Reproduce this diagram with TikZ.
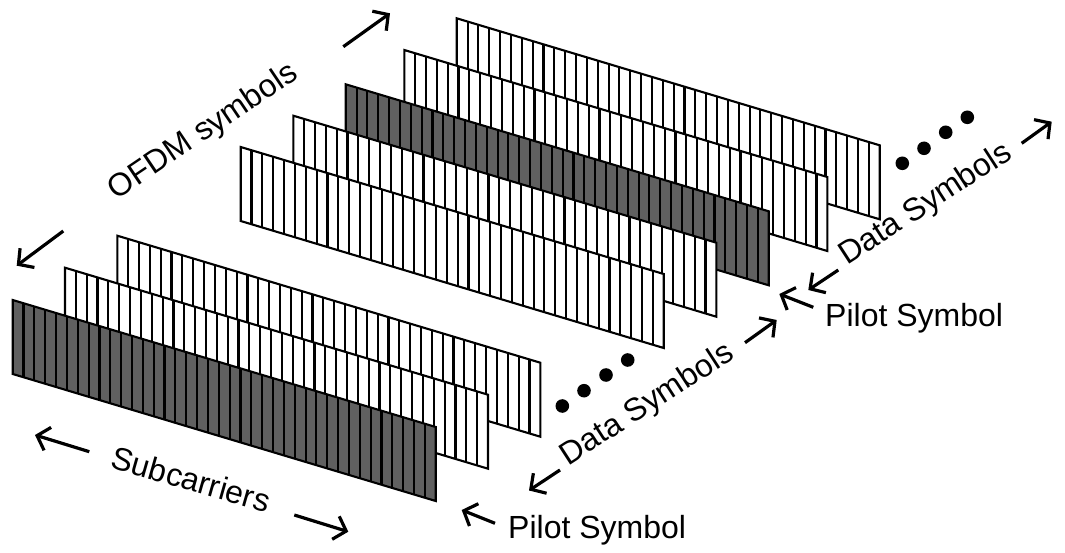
\documentclass[tikz,border=0pt]{standalone}
\usepackage{fontspec}
\setmainfont{Liberation Sans}
\usetikzlibrary{arrows.meta}
\definecolor{pilotgray}{RGB}{96,96,96}
\newcommand\ofdmslab[3]{%
  \filldraw[slabline, fill=#3] (#1,#2) -- ++(423,127) -- ++(0,74) -- ++(-423,-127) -- cycle;
  \foreach \i in {1,...,38}{\draw[slabline] ({#1+\i*423/39},{#2+\i*127/39}) -- ++(0,74);}
}
\tikzset{
  slabline/.style={line width=2.1pt, line join=miter},
  axisarrow/.style={line width=3.2pt, -{Straight Barb[length=11pt,width=24pt,line width=3.2pt]}},
  lbl/.style={font=\fontsize{32}{32}\selectfont, inner sep=0pt, anchor=base},
  dot/.style={fill=black}
}
\begin{document}
\begin{tikzpicture}[x=1pt,y=-1pt]
\useasboundingbox[fill=white] (0,0) rectangle (1065,553);
% back group
\ofdmslab{456.7}{18.3}{white}
\ofdmslab{404.3}{50}{white}
\ofdmslab{345.7}{84.3}{pilotgray}
\ofdmslab{293.3}{115.7}{white}
\ofdmslab{240.7}{147}{white}
% front group
\ofdmslab{117.3}{235.7}{white}
\ofdmslab{65}{267.7}{white}
\ofdmslab{12.7}{300}{pilotgray}
% dots
\foreach \x/\y in {562.3/406, 584/390.7, 606/375, 627.7/360, 902.3/163.3, 924/148.3, 945.7/132.3, 967.3/117.3}
  \fill[dot] (\x,\y) circle (6.8pt);
% labels
\node[lbl, rotate=34] (ofdm) at (208,139) {OFDM symbols};
\node[lbl, rotate=-16] (subc) at (188,490) {Subcarriers};
\node[lbl, anchor=base west] (pilotA) at (508,538.3) {Pilot Symbol};
\node[lbl, anchor=base west] (pilotB) at (825,326.7) {Pilot Symbol};
\node[lbl, rotate=33] (dataA) at (652,412) {Data Symbols};
\node[lbl, rotate=33] (dataB) at (930.7,211.7) {Data Symbols};
% arrow end points
\coordinate (o1t) at (63.3,231);   \coordinate (o1h) at (16.7,265.7);
\coordinate (o2t) at (343.3,46.7); \coordinate (o2h) at (390,13.3);
\coordinate (s1t) at (89.3,451.7); \coordinate (s1h) at (35,435);
\coordinate (s2t) at (294.3,515);  \coordinate (s2h) at (348.3,531.7);
\coordinate (p1t) at (495,523.3);  \coordinate (p1h) at (461.7,510);
\coordinate (p2t) at (813.3,307.3); \coordinate (p2h) at (779.3,294);
\coordinate (d1t) at (560,470);    \coordinate (d1h) at (529,490.5);
\coordinate (d2t) at (745,342.7);  \coordinate (d2h) at (776.7,320);
\coordinate (d3t) at (838.3,270);  \coordinate (d3h) at (808.3,290);
\coordinate (d4t) at (1021.7,143.3); \coordinate (d4h) at (1051.7,121.7);
\foreach \a in {o1,o2,s1,s2,p1,p2,d1,d2,d3,d4}
  \draw[axisarrow] (\a t) -- (\a h);
\end{tikzpicture}
\end{document}
